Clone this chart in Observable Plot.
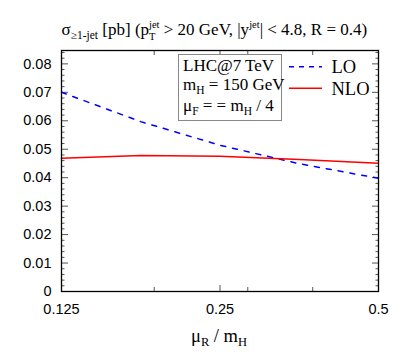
<!DOCTYPE html>
<html>
<head>
<meta charset="utf-8">
<script src="https://cdn.jsdelivr.net/npm/d3@7"></script>
<script src="https://cdn.jsdelivr.net/npm/@observablehq/plot@0.6"></script>
<style>
  html, body { margin: 0; padding: 0; background: #fff; }
  #chart svg { display: block; }
</style>
</head>
<body>
<div id="chart"></div>
<script>
// ---- data ----
const muR = [0.125, 0.1768, 0.25, 0.3536, 0.5];            // mu_R / m_H
const sigmaLO = [0.0700, 0.0597, 0.0514, 0.0449, 0.0398];  // LO [pb]
const sigmaNLO = [0.0468, 0.0478, 0.0475, 0.0464, 0.0451]; // NLO [pb]
const xTickValues = [0.125, 0.25, 0.5];
const xMinorTicks = [0.1875, 0.2823, 0.375];
const yTickValues = [0, 0.01, 0.02, 0.03, 0.04, 0.05, 0.06, 0.07, 0.08];
const yMinorTicks = [0.002, 0.004, 0.006, 0.008, 0.012, 0.014, 0.016, 0.018,
  0.022, 0.024, 0.026, 0.028, 0.032, 0.034, 0.036, 0.038, 0.042, 0.044, 0.046, 0.048,
  0.052, 0.054, 0.056, 0.058, 0.062, 0.064, 0.066, 0.068, 0.072, 0.074, 0.076, 0.078, 0.082, 0.084];
const seriesNames = ["LO", "NLO"];
const seriesColors = ["#0000ff", "#ff0000"];

const rows = muR.map((m, i) => ({mu: m, lo: sigmaLO[i], nlo: sigmaNLO[i]}));
const tickColor = "#555";

const chart = Plot.plot({
  width: 409,
  height: 363,
  marginLeft: 61,
  marginRight: 31,
  marginTop: 50,
  marginBottom: 72,
  style: {fontFamily: "'Liberation Sans', Arial, sans-serif", fontSize: "14.5px", background: "#fff", overflow: "visible"},
  x: {type: "log", domain: [0.125, 0.5], axis: null},
  y: {domain: [0, 0.0847], axis: null},
  marks: [
    // y major/minor ticks (inward) left and right
    Plot.axisY({anchor: "left", ticks: yTickValues, tickSize: 7, dx: 7, text: null, label: null, stroke: tickColor}),
    Plot.axisY({anchor: "left", ticks: yMinorTicks, tickSize: 3.5, dx: 3.5, text: null, label: null, stroke: tickColor}),
    Plot.axisY({anchor: "right", ticks: yTickValues, tickSize: 7, dx: -7, text: null, label: null, stroke: tickColor}),
    Plot.axisY({anchor: "right", ticks: yMinorTicks, tickSize: 3.5, dx: -3.5, text: null, label: null, stroke: tickColor}),
    // x ticks (inward) bottom and top
    Plot.axisX({anchor: "bottom", ticks: xTickValues, tickSize: 6, dy: -6, text: null, label: null, stroke: tickColor}),
    Plot.axisX({anchor: "bottom", ticks: xMinorTicks, tickSize: 4, dy: -4, text: null, label: null, stroke: tickColor}),
    Plot.axisX({anchor: "top", ticks: xTickValues, tickSize: 6, dy: 6, text: null, label: null, stroke: tickColor}),
    Plot.axisX({anchor: "top", ticks: xMinorTicks, tickSize: 4, dy: 4, text: null, label: null, stroke: tickColor}),
    // tick labels
    Plot.axisY({anchor: "left", ticks: yTickValues, tickSize: 0, tickPadding: 10, label: null,
      tickFormat: d => d === 0 ? "0" : d.toFixed(2), fill: "#000", fontSize: 14.5}),
    Plot.axisX({anchor: "bottom", ticks: xTickValues, tickSize: 0, tickPadding: 12, label: null,
      tickFormat: d => String(d), fill: "#000", fontSize: 14.5}),
    // data
    Plot.line(rows, {x: "mu", y: "lo", stroke: seriesColors[0], strokeWidth: 1.5, strokeDasharray: "5,7"}),
    Plot.line(rows, {x: "mu", y: "nlo", stroke: seriesColors[1], strokeWidth: 1.5}),
    Plot.frame({stroke: "#000", strokeWidth: 1.3})
  ]
});
document.getElementById("chart").append(chart);

// ---- annotations (title, info box, legend, x title) ----
const svg = d3.select(chart);
const serif = "'Liberation Serif', 'Times New Roman', serif";

function richText(g, x, y, size, parts, anchor) {
  const t = g.append("text")
    .attr("x", x).attr("y", y)
    .attr("font-family", serif)
    .attr("font-size", size)
    .attr("fill", "#000")
    .attr("text-anchor", anchor || "start");
  for (const p of parts) {
    const s = t.append("tspan").text(p.t);
    if (p.size) s.attr("font-size", p.size);
    if (p.dx) s.attr("dx", p.dx);
    if (p.dy) s.attr("dy", p.dy);
  }
  return t;
}

const ann = svg.append("g");
// title
richText(ann, 61.5, 35, 17, [
  {t: "σ"},
  {t: "≥1-jet", size: 11.5, dy: 4},
  {t: " [pb] (p", dy: -4},
  {t: "T", size: 10.5, dy: 4.5},
  {t: "jet", size: 10.5, dx: -6.5, dy: -12},
  {t: " > 20 GeV, |y", dy: 7.5},
  {t: "jet", size: 10.5, dy: -7.5},
  {t: "| < 4.8, R = 0.4)", dy: 7.5}
]);

// info box
ann.append("rect")
  .attr("x", 178.5).attr("y", 54.5).attr("width", 103).attr("height", 66)
  .attr("fill", "#fff").attr("stroke", "#888").attr("stroke-width", 1);
richText(ann, 183, 70.7, 17, [{t: "LHC@7 TeV"}]);
richText(ann, 183, 90, 17, [
  {t: "m"}, {t: "H", size: 11.5, dy: 4}, {t: " = 150 GeV", dy: -4}
]);
richText(ann, 183, 110.7, 17, [
  {t: "μ"}, {t: "F", size: 11.5, dy: 4}, {t: " = = m", dy: -4},
  {t: "H", size: 11.5, dy: 4}, {t: " / 4", dy: -4}
]);

// legend
const legendY = [66.7, 88.3];
const legendDash = ["5,5", null];
seriesNames.forEach((name, i) => {
  const l = ann.append("line")
    .attr("x1", 289).attr("x2", 322)
    .attr("y1", legendY[i]).attr("y2", legendY[i])
    .attr("stroke", seriesColors[i]).attr("stroke-width", 1.5);
  if (legendDash[i]) l.attr("stroke-dasharray", legendDash[i]);
  richText(ann, 331.5, legendY[i] + 6.5, 18.5, [{t: name}]);
});

// x axis title
richText(ann, 219, 342, 18.5, [
  {t: "μ"}, {t: "R", size: 12.5, dy: 4}, {t: " / m", dy: -4}, {t: "H", size: 12.5, dy: 4}
], "middle");
</script>
</body>
</html>
